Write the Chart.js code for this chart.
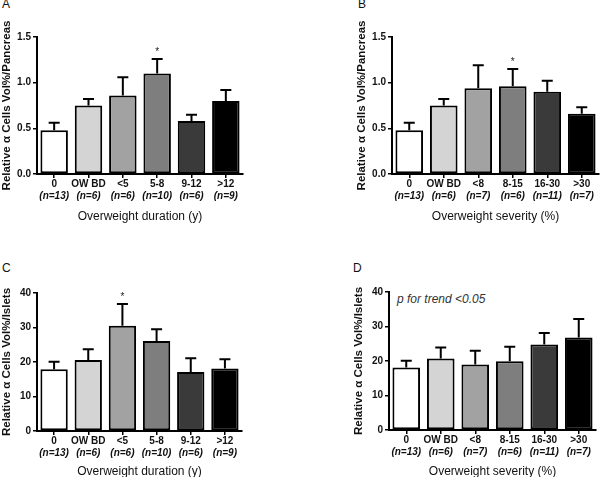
<!DOCTYPE html>
<html>
<head>
<meta charset="utf-8">
<script src="https://cdn.jsdelivr.net/npm/chart.js@4/dist/chart.umd.min.js"></script>
<style>
    body { margin: 0; background: #fff; width: 600px; height: 477px; position: relative; overflow: hidden; }
    canvas { position: absolute; }
    .letter { position: absolute; font: 12px "Liberation Sans", Arial, sans-serif; color: #111; }
    .note { position: absolute; font: italic 12px "Liberation Sans", Arial, sans-serif; color: #333; white-space: nowrap; }
</style>
</head>
<body>
<div class="letter" style="left:2px;top:-3px">A</div>
<div class="letter" style="left:358px;top:-3px">B</div>
<div class="letter" style="left:2px;top:261px">C</div>
<div class="letter" style="left:353px;top:261px">D</div>
<div class="note" style="left:397px;top:292px">p for trend &lt;0.05</div>

<canvas id="chartA" width="300" height="238" style="left:0;top:0"></canvas>
<canvas id="chartB" width="300" height="238" style="left:300px;top:0"></canvas>
<canvas id="chartC" width="300" height="239" style="left:0;top:238px"></canvas>
<canvas id="chartD" width="300" height="239" style="left:300px;top:238px"></canvas>

<script>
// categories
const durationLabels = ['0', 'OW BD', '<5', '5-8', '9-12', '>12'];
const durationN = ['(n=13)', '(n=6)', '(n=6)', '(n=10)', '(n=6)', '(n=9)'];
const severityLabels = ['0', 'OW BD', '<8', '8-15', '16-30', '>30'];
const severityN = ['(n=13)', '(n=6)', '(n=7)', '(n=6)', '(n=11)', '(n=7)'];
const barColors = ['#ffffff', '#d4d4d4', '#a2a2a2', '#7e7e7e', '#3a3a3a', '#000000'];

// A: alpha cells vol% / pancreas by overweight duration
const pancreasByDuration = [0.48, 0.75, 0.86, 1.10, 0.58, 0.80];
const pancreasByDurationSem = [0.08, 0.07, 0.20, 0.16, 0.07, 0.12];
const pancreasByDurationStars = ['', '', '', '*', '', ''];

// B: alpha cells vol% / pancreas by overweight severity
const pancreasBySeverity = [0.48, 0.75, 0.94, 0.96, 0.90, 0.66];
const pancreasBySeveritySem = [0.08, 0.07, 0.25, 0.19, 0.12, 0.07];
const pancreasBySeverityStars = ['', '', '', '*', '', ''];

// C: alpha cells vol% / islets by overweight duration
const isletsByDuration = [17.9, 20.6, 30.5, 26.1, 17.1, 18.1];
const isletsByDurationSem = [2.2, 3.1, 6.3, 3.4, 4.0, 2.7];
const isletsByDurationStars = ['', '', '*', '', '', ''];

// D: alpha cells vol% / islets by overweight severity
const isletsBySeverity = [18.1, 20.7, 19.0, 19.9, 24.8, 26.8];
const isletsBySeveritySem = [2.0, 3.2, 4.0, 4.2, 3.3, 5.4];
const isletsBySeverityStars = ['', '', '', '', '', ''];

const pancreasTicks = { max: 1.5, step: 0.5, digits: 1 };
const isletsTicks = { max: 40, step: 10, digits: 0 };

const tickFont = { family: '"Liberation Sans", Arial, sans-serif', size: 10, weight: 'bold' };

// draws SEM bars (upper half only) and significance stars
const errorBars = {
    id: 'errorBars',
    afterDatasetsDraw(chart, args, opts) {
        const { ctx } = chart;
        const y = chart.scales.y;
        const means = chart.data.datasets[0].data;
        const meta = chart.getDatasetMeta(0);
        ctx.save();
        ctx.strokeStyle = '#000';
        ctx.lineWidth = 2;
        ctx.fillStyle = '#222';
        ctx.font = '10px "Liberation Sans", Arial, sans-serif';
        ctx.textAlign = 'center';
        ctx.textBaseline = 'alphabetic';
        meta.data.forEach((bar, i) => {
            const top = y.getPixelForValue(means[i] + opts.sems[i]);
            ctx.beginPath();
            ctx.moveTo(bar.x, bar.y);
            ctx.lineTo(bar.x, top);
            ctx.moveTo(bar.x - 5.5, top);
            ctx.lineTo(bar.x + 5.5, top);
            ctx.stroke();
            if (opts.stars[i]) {
                ctx.fillText(opts.stars[i], bar.x, top - 4);
            }
        });
        ctx.restore();
    }
};

// second line of the category labels, italic
const groupSizes = {
    id: 'groupSizes',
    afterDraw(chart, args, opts) {
        const { ctx, chartArea } = chart;
        const x = chart.scales.x;
        ctx.save();
        ctx.fillStyle = '#111';
        ctx.font = 'italic bold 10px "Liberation Sans", Arial, sans-serif';
        ctx.textAlign = 'center';
        ctx.textBaseline = 'middle';
        opts.labels.forEach((label, i) => {
            ctx.fillText(label, x.getPixelForTick(i), chartArea.bottom + 22);
        });
        ctx.restore();
    }
};

function makePanel(id, labels, nLabels, means, sems, stars, ticks, yTitle, xTitle, box) {
    const el = document.getElementById(id);
    return new Chart(el, {
        type: 'bar',
        data: {
            labels: labels,
            datasets: [{
                data: means,
                backgroundColor: barColors,
                borderColor: '#000',
                borderWidth: 2,
                borderSkipped: false,
                barPercentage: 0.8,
                categoryPercentage: 1
            }]
        },
        options: {
            responsive: false,
            animation: false,
            layout: { padding: { left: box.left, top: box.top, right: box.right, bottom: 0 } },
            plugins: {
                legend: { display: false },
                tooltip: { enabled: false },
                errorBars: { sems, stars },
                groupSizes: { labels: nLabels }
            },
            scales: {
                x: {
                    afterFit: (scale) => { scale.height = box.xHeight; },
                    border: { display: true, color: '#000', width: 2 },
                    grid: { display: true, drawOnChartArea: false, offset: false, color: '#000', lineWidth: 1.5, tickLength: 4 },
                    ticks: { color: '#111', font: tickFont, padding: 0, maxRotation: 0, autoSkip: false },
                    title: {
                        display: true,
                        text: xTitle,
                        color: '#111',
                        font: { family: '"Liberation Sans", Arial, sans-serif', size: 12 },
                        padding: { top: 0, bottom: box.titleBottom }
                    }
                },
                y: {
                    min: 0,
                    max: ticks.max,
                    afterFit: (scale) => { scale.width = 37; },
                    border: { display: true, color: '#000', width: 2 },
                    grid: { display: true, drawOnChartArea: false, color: '#000', lineWidth: 1.5, tickLength: 4 },
                    ticks: {
                        stepSize: ticks.step,
                        color: '#111',
                        font: tickFont,
                        padding: 2,
                        callback: (v) => Number(v).toFixed(ticks.digits)
                    },
                    title: {
                        display: true,
                        text: yTitle,
                        color: '#111',
                        font: { family: '"Liberation Sans", Arial, sans-serif', size: 11.5, weight: 'bold' },
                        padding: 0
                    }
                }
            }
        },
        plugins: [errorBars, groupSizes]
    });
}

const pancreasTitle = 'Relative \u03b1 Cells Vol%/Pancreas';
const isletsTitle = 'Relative \u03b1 Cells Vol%/Islets';

makePanel('chartA', durationLabels, durationN, pancreasByDuration, pancreasByDurationSem, pancreasByDurationStars,
    pancreasTicks, pancreasTitle, 'Overweight duration (y)',
    { left: 0, top: 37, right: 57, xHeight: 64, titleBottom: 14 });

makePanel('chartB', severityLabels, severityN, pancreasBySeverity, pancreasBySeveritySem, pancreasBySeverityStars,
    pancreasTicks, pancreasTitle, 'Overweight severity (%)',
    { left: 55, top: 37, right: 1, xHeight: 64, titleBottom: 14 });

makePanel('chartC', durationLabels, durationN, isletsByDuration, isletsByDurationSem, isletsByDurationStars,
    isletsTicks, isletsTitle, 'Overweight duration (y)',
    { left: 0, top: 55, right: 58, xHeight: 46, titleBottom: -2 });

makePanel('chartD', severityLabels, severityN, isletsBySeverity, isletsBySeveritySem, isletsBySeverityStars,
    isletsTicks, isletsTitle, 'Overweight severity (%)',
    { left: 52, top: 54, right: 4, xHeight: 47, titleBottom: -2 });
</script>
</body>
</html>
